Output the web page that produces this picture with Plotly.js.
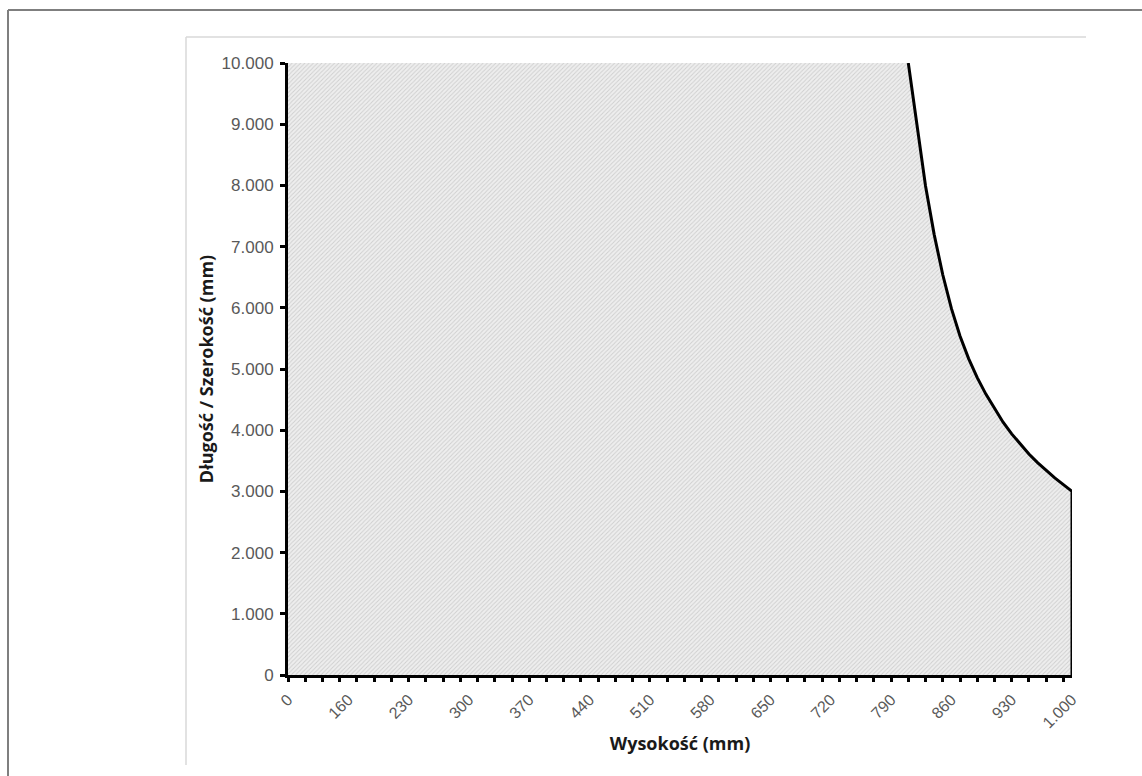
<!DOCTYPE html>
<html>
<head>
<meta charset="utf-8">
<script src="https://cdn.plot.ly/plotly-3.0.1.min.js"></script>
<style>
html,body{margin:0;padding:0;background:#fff;}
#chart{width:1142px;height:776px;}
</style>
</head>
<body>
<div id="chart"></div>
<script>
// Heights (category axis) in mm
const heights = [0,
  100,110,120,130,140,150,160,170,180,190,
  200,210,220,230,240,250,260,270,280,290,
  300,310,320,330,340,350,360,370,380,390,
  400,410,420,430,440,450,460,470,480,490,
  500,510,520,530,540,550,560,570,580,590,
  600,610,620,630,640,650,660,670,680,690,
  700,710,720,730,740,750,760,770,780,790,
  800,810,820,830,840,850,860,870,880,890,
  900,910,920,930,940,950,960,970,980,990,
  1000];
// Maximum length / width in mm
const lengths = [10000,
  10000,10000,10000,10000,10000,10000,10000,10000,10000,10000,
  10000,10000,10000,10000,10000,10000,10000,10000,10000,10000,
  10000,10000,10000,10000,10000,10000,10000,10000,10000,10000,
  10000,10000,10000,10000,10000,10000,10000,10000,10000,10000,
  10000,10000,10000,10000,10000,10000,10000,10000,10000,10000,
  10000,10000,10000,10000,10000,10000,10000,10000,10000,10000,
  10000,10000,10000,10000,10000,10000,10000,10000,10000,10000,
  10000,10000,9000,7990,7200,6540,5990,5540,5170,4860,
  4590,4350,4130,3940,3770,3610,3470,3340,3220,3110,
  3000];
// Axis tick labels shown (every 7th category)
const xLabelStep = 7;
const yTicks = [0,1000,2000,3000,4000,5000,6000,7000,8000,9000,10000];

const yMax = 10000;
const fmt = v => v >= 1000 ? Math.floor(v/1000) + '.' + String(v%1000).padStart(3,'0') : String(v);

const idx = heights.map((h,i) => i);
const tickIdx = idx.filter(i => i % xLabelStep === 0);
const tickTxt = tickIdx.map(i => fmt(heights[i]));

// outline: the part of the series below the axis maximum, plus the drop to zero at the end
let first = lengths.findIndex(v => v < yMax) - 1;
const ox = idx.slice(first), oy = lengths.slice(first);
const last = idx.length - 1;
ox.push(idx[last]); oy.push(0);

const fillTrace = {
  x: idx, y: lengths, type: 'scatter', mode: 'lines',
  line: {width: 0, color: 'rgba(0,0,0,0)'},
  fill: 'tozeroy', fillcolor: '#ebebeb',
  fillpattern: {shape: '/', size: 3, solidity: 0.3, fgcolor: '#cfcfcf', bgcolor: '#eeeeee'},
  hoverinfo: 'skip', showlegend: false
};
const lineTrace = {
  x: ox, y: oy, type: 'scatter', mode: 'lines',
  line: {width: 3, color: '#000000'}, showlegend: false
};

const W = 1142, H = 776, L = 288, R = 1072, T = 63, B = 675;
const px = p => (p - L) / (R - L);
const py = p => (B - p) / (B - T);

const layout = {
  width: W, height: H,
  margin: {l: L, r: W - R, t: T, b: H - B, pad: 0},
  paper_bgcolor: '#ffffff', plot_bgcolor: '#ffffff',
  showlegend: false,
  xaxis: {
    range: [0, last], showgrid: false, zeroline: false,
    tickmode: 'array', tickvals: tickIdx, ticktext: tickTxt,
    ticks: '', tickangle: -45, ticklabelstandoff: 6,
    tickfont: {family: 'Liberation Sans, Arial, sans-serif', size: 16, color: '#595959'},
    showline: true, linecolor: '#000000', linewidth: 3,
    minor: {ticks: 'outside', tickmode: 'linear', tick0: 0, dtick: 2, ticklen: 4, tickwidth: 3, tickcolor: '#000000', showgrid: false},
    title: {text: 'Wysokość (mm)', font: {family: 'Open Sans, sans-serif', size: 18, color: '#1a1a1a', weight: 'bold'}, standoff: 8}
  },
  yaxis: {
    range: [0, yMax], showgrid: false, zeroline: false,
    tickmode: 'array', tickvals: yTicks, ticktext: yTicks.map(fmt),
    ticks: 'outside', ticklen: 5, tickwidth: 3, tickcolor: '#000000', ticklabelstandoff: 3,
    tickfont: {family: 'Liberation Sans, Arial, sans-serif', size: 17, color: '#595959'},
    showline: true, linecolor: '#000000', linewidth: 3,
    title: {text: 'Długość / Szerokość (mm)', font: {family: 'Open Sans, sans-serif', size: 18, color: '#1a1a1a', weight: 'bold'}, standoff: 4}
  },
  shapes: [
    // outer frame
    {type: 'line', xref: 'paper', yref: 'paper', x0: px(8), x1: px(1142), y0: py(10), y1: py(10), line: {color: '#7f7f7f', width: 2}},
    {type: 'line', xref: 'paper', yref: 'paper', x0: px(8), x1: px(8), y0: py(10), y1: py(776), line: {color: '#7f7f7f', width: 2}},
    // inner chart frame
    {type: 'line', xref: 'paper', yref: 'paper', x0: px(186), x1: px(1086), y0: py(37), y1: py(37), line: {color: '#d9d9d9', width: 1.5}},
    {type: 'line', xref: 'paper', yref: 'paper', x0: px(186), x1: px(186), y0: py(37), y1: py(765), line: {color: '#d9d9d9', width: 1.5}}
  ]
};

Plotly.newPlot('chart', [fillTrace, lineTrace], layout, {displayModeBar: false, staticPlot: true});
</script>
</body>
</html>
